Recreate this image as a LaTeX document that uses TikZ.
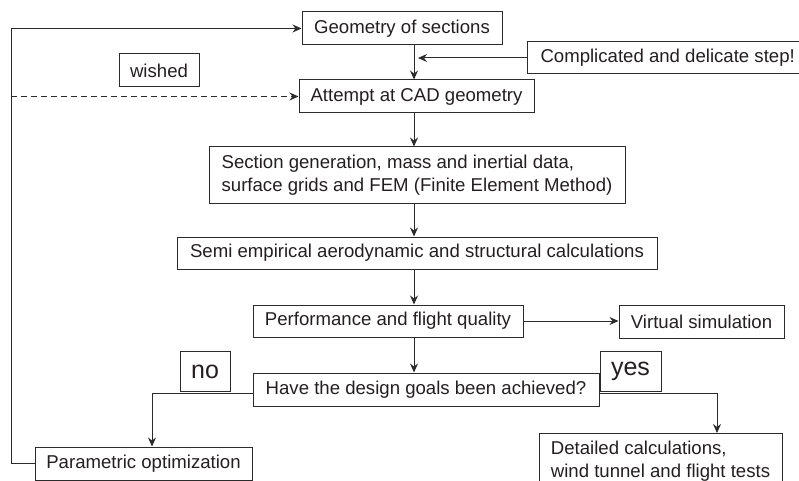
\documentclass[tikz,border=0pt]{standalone}
\usepackage{fontspec}
\setmainfont{Liberation Sans}
\usetikzlibrary{arrows.meta}
\definecolor{boxgray}{HTML}{2B2B2B}
\definecolor{textgray}{HTML}{231F20}

\begin{document}
\begin{tikzpicture}[x=1pt,y=-1pt,
    >={Stealth[length=9pt,width=8pt,inset=3pt]},
    box/.style={draw=boxgray, line width=1pt, text=textgray, inner sep=0pt,
        font=\fontsize{18.6}{23}\selectfont, minimum height=33pt},
    tag/.style={box, font=\fontsize{25}{28}\selectfont, minimum height=40pt, anchor=south},
    link/.style={draw=boxgray, line width=1pt, ->}]
        \useasboundingbox (0,0) rectangle (799,481);
        \node[box, minimum width=200pt] (geom) at (402,28.5) {Geometry of sections};
        \node[box, anchor=west, inner xsep=13pt, minimum height=32pt] (compl) at (527,58) {Complicated and delicate step!};
        \node[box, minimum width=80pt] (wished) at (159,70.5) {wished};
        \node[box, minimum width=235pt] (attempt) at (416.5,96.5) {Attempt at CAD geometry};
        \node[box, minimum width=416pt, minimum height=56pt, align=left] (secgen) at (417,175)
            {Section generation, mass and inertial data,\\surface grids and FEM (Finite Element Method)};
        \node[box, minimum width=480pt, minimum height=32pt] (semi) at (417,253) {Semi empirical aerodynamic and structural calculations};
        \node[box, minimum width=270pt, minimum height=32pt] (perf) at (388,321) {Performance and flight quality};
        \node[box, minimum width=165pt] (virt) at (701.5,322) {Virtual simulation};
        \node[box, minimum width=346pt] (have) at (426,389.5) {Have the design goals been achieved?};
        \node[tag, minimum width=50pt] (no) at (205,392) {no};
        \node[tag, minimum width=61pt] (yes) at (630.5,392) {yes};
        \node[box, minimum width=217pt] (param) at (143.5,463.5) {Parametric optimization};
        \node[box, anchor=north, minimum width=243pt, minimum height=56pt, align=left] (detail) at (660.5,433)
            {Detailed calculations,\\wind tunnel and flight tests};
        % main line
        \coordinate (spine) at (414,0);
        \coordinate (loop) at (11,0);
        \draw[link] (geom.south -| spine) -- (attempt.north -| spine);
        \draw[link] (attempt.south -| spine) -- (secgen.north -| spine);
        \draw[link] (secgen.south -| spine) -- (semi.north -| spine);
        \draw[link] (semi.south -| spine) -- (perf.north -| spine);
        \draw[link] (perf.south -| spine) -- (have.north -| spine);
        \draw[link, shorten >=4pt] (compl.west) -- (compl.west -| spine);
        \draw[link] (perf.east) -- (virt.west |- perf.east);
        % feedback
        \draw[link] (param.west) -- (loop |- param.west) -- (loop |- geom.west) -- (geom.west);
        \draw[link, dashed, dash pattern=on 6pt off 4pt] (loop |- attempt.west) -- (attempt.west);
        \coordinate (nobend) at (152,393);
        \draw[link] (have.west |- nobend) -- (nobend) -- (nobend |- param.north);
        \coordinate (yesbend) at (717,393);
        \draw[link] (have.east |- yesbend) -- (yesbend) -- (yesbend |- detail.north);
    \end{tikzpicture}
\end{document}
